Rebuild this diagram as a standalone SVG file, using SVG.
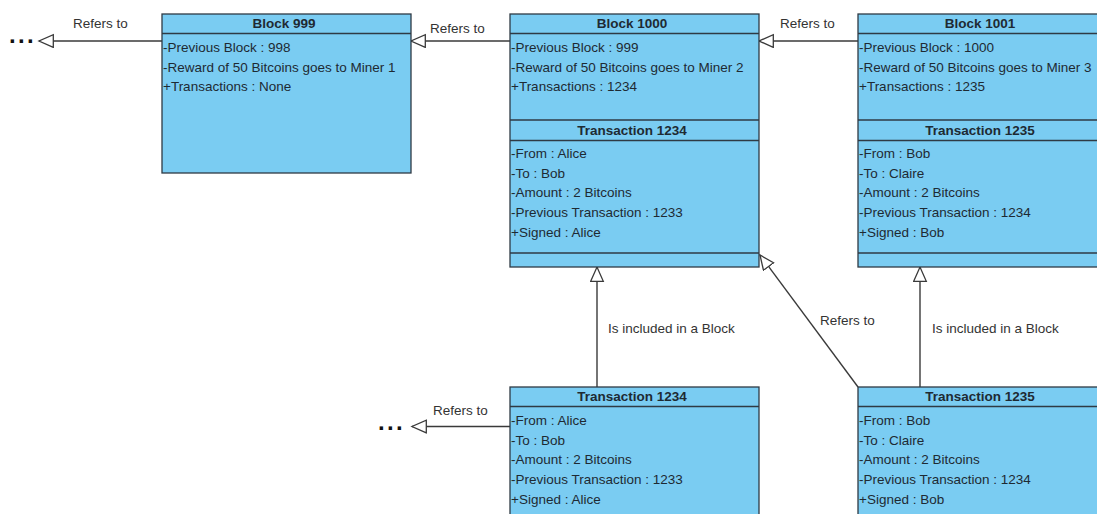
<svg xmlns="http://www.w3.org/2000/svg" width="1097" height="514" viewBox="0 0 1097 514">
<style>
.box{fill:#7ACCF2;stroke:#2F3A44;stroke-width:1.3}
.sep{stroke:#2F3A44;stroke-width:1.3}
.t{font-family:"Liberation Sans",Arial,sans-serif;font-size:13.5px;fill:#1E2A33}
.h{font-family:"Liberation Sans",Arial,sans-serif;font-size:13.5px;font-weight:bold;fill:#1E2A33;text-anchor:middle}
.lbl{font-family:"Liberation Sans",Arial,sans-serif;font-size:13.5px;fill:#333}
.dots{font-family:"Liberation Sans",Arial,sans-serif;font-size:24px;font-weight:bold;fill:#111;letter-spacing:2.3px}
.conn{stroke:#3A3A3A;stroke-width:1.4;fill:none;marker-end:url(#tri)}
</style>
<defs>
<marker id="tri" markerUnits="userSpaceOnUse" markerWidth="18" markerHeight="18" refX="15" refY="7" orient="auto">
<path d="M0.7,0.7 L15,7 L0.7,13.3 Z" fill="#fff" stroke="#3A3A3A" stroke-width="1.3"/>
</marker>
</defs>
<rect width="1097" height="514" fill="#fff"/>
<g id="connectors">
<line class="conn" x1="162" y1="41" x2="39" y2="41"/>
<line class="conn" x1="510" y1="41" x2="411" y2="41"/>
<line class="conn" x1="858" y1="41" x2="759" y2="41"/>
<line class="conn" x1="597" y1="387" x2="597" y2="267"/>
<line class="conn" x1="920" y1="387" x2="920" y2="267"/>
<line class="conn" x1="858" y1="387" x2="760" y2="255"/>
<line class="conn" x1="510" y1="426.5" x2="412" y2="426.5"/>
<text class="lbl" x="73" y="28">Refers to</text>
<text class="lbl" x="430" y="33">Refers to</text>
<text class="lbl" x="780" y="28">Refers to</text>
<text class="lbl" x="608" y="333">Is included in a Block</text>
<text class="lbl" x="932" y="333">Is included in a Block</text>
<text class="lbl" x="820" y="325">Refers to</text>
<text class="lbl" x="433" y="415">Refers to</text>
<text class="dots" x="9" y="42.5">...</text>
<text class="dots" x="378" y="429.5">...</text>
</g>
<g id="block999">
<rect class="box" x="162" y="14" width="249" height="159"/>
<line class="sep" x1="162" y1="33.5" x2="411" y2="33.5"/>
<text class="h" x="284" y="28">Block 999</text>
<text class="t" x="163" y="52">-Previous Block : 998</text>
<text class="t" x="163" y="72">-Reward of 50 Bitcoins goes to Miner 1</text>
<text class="t" x="163" y="91">+Transactions : None</text>
</g>
<g id="block1000">
<rect class="box" x="510" y="14" width="249" height="253"/>
<line class="sep" x1="510" y1="33.5" x2="759" y2="33.5"/>
<line class="sep" x1="510" y1="120" x2="759" y2="120"/>
<line class="sep" x1="510" y1="140.5" x2="759" y2="140.5"/>
<line class="sep" x1="510" y1="253" x2="759" y2="253"/>
<text class="h" x="632" y="28">Block 1000</text>
<text class="t" x="511" y="52">-Previous Block : 999</text>
<text class="t" x="511" y="72">-Reward of 50 Bitcoins goes to Miner 2</text>
<text class="t" x="511" y="91">+Transactions : 1234</text>
<text class="h" x="632" y="135">Transaction 1234</text>
<text class="t" x="511" y="158">-From : Alice</text>
<text class="t" x="511" y="178">-To : Bob</text>
<text class="t" x="511" y="197">-Amount : 2 Bitcoins</text>
<text class="t" x="511" y="217">-Previous Transaction : 1233</text>
<text class="t" x="511" y="237">+Signed : Alice</text>
</g>
<g id="block1001">
<rect class="box" x="858" y="14" width="249" height="253"/>
<line class="sep" x1="858" y1="33.5" x2="1107" y2="33.5"/>
<line class="sep" x1="858" y1="120" x2="1107" y2="120"/>
<line class="sep" x1="858" y1="140.5" x2="1107" y2="140.5"/>
<line class="sep" x1="858" y1="253" x2="1107" y2="253"/>
<text class="h" x="980" y="28">Block 1001</text>
<text class="t" x="859" y="52">-Previous Block : 1000</text>
<text class="t" x="859" y="72">-Reward of 50 Bitcoins goes to Miner 3</text>
<text class="t" x="859" y="91">+Transactions : 1235</text>
<text class="h" x="980" y="135">Transaction 1235</text>
<text class="t" x="859" y="158">-From : Bob</text>
<text class="t" x="859" y="178">-To : Claire</text>
<text class="t" x="859" y="197">-Amount : 2 Bitcoins</text>
<text class="t" x="859" y="217">-Previous Transaction : 1234</text>
<text class="t" x="859" y="237">+Signed : Bob</text>
</g>
<g id="tx1234">
<rect class="box" x="510" y="387" width="249" height="150"/>
<line class="sep" x1="510" y1="406.5" x2="759" y2="406.5"/>
<text class="h" x="632" y="401">Transaction 1234</text>
<text class="t" x="511" y="425">-From : Alice</text>
<text class="t" x="511" y="445">-To : Bob</text>
<text class="t" x="511" y="464">-Amount : 2 Bitcoins</text>
<text class="t" x="511" y="484">-Previous Transaction : 1233</text>
<text class="t" x="511" y="504">+Signed : Alice</text>
</g>
<g id="tx1235">
<rect class="box" x="858" y="387" width="249" height="150"/>
<line class="sep" x1="858" y1="406.5" x2="1107" y2="406.5"/>
<text class="h" x="980" y="401">Transaction 1235</text>
<text class="t" x="859" y="425">-From : Bob</text>
<text class="t" x="859" y="445">-To : Claire</text>
<text class="t" x="859" y="464">-Amount : 2 Bitcoins</text>
<text class="t" x="859" y="484">-Previous Transaction : 1234</text>
<text class="t" x="859" y="504">+Signed : Bob</text>
</g>
</svg>
